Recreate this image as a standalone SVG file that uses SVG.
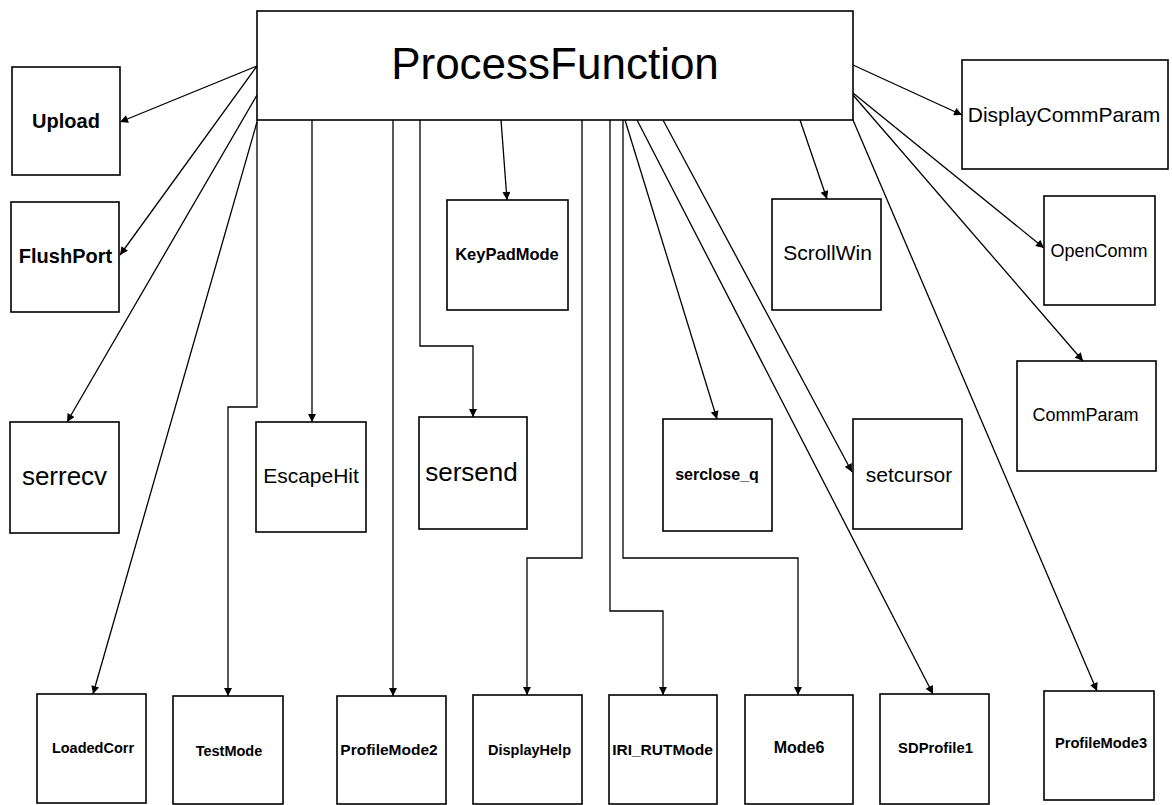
<svg xmlns="http://www.w3.org/2000/svg" width="1172" height="805" viewBox="0 0 1172 805">
<style>
.box{fill:#fff;stroke:#000;stroke-width:1.6}
.c{fill:none;stroke:#000;stroke-width:1.3}
text{font-family:"Liberation Sans",Arial,sans-serif;fill:#000;text-anchor:middle}
.b{font-weight:bold}
</style>
<defs>
<marker id="ah" viewBox="0 0 10 10" refX="10" refY="5" markerWidth="9" markerHeight="8" markerUnits="userSpaceOnUse" orient="auto">
<path d="M0,0 L10,5 L0,10 z" fill="#000"/>
</marker>
</defs>
<g id="connectors" class="c" marker-end="url(#ah)">
<path class="c" d="M257,66 L120,122"/>
<path class="c" d="M257,66 L120,255"/>
<path class="c" d="M257,95 L67,422"/>
<path class="c" d="M257,122 L93,694"/>
<path class="c" d="M257,120 L257,407 L228,407 L228,696"/>
<path class="c" d="M312,120 L312,422"/>
<path class="c" d="M393,120 L393,696"/>
<path class="c" d="M420,120 L420,346 L473,346 L473,417"/>
<path class="c" d="M501,120 L507,200"/>
<path class="c" d="M582,120 L582,558 L527,558 L527,695"/>
<path class="c" d="M610,120 L610,611 L663,611 L663,695"/>
<path class="c" d="M623,120 L623,558 L798,558 L798,695"/>
<path class="c" d="M625,120 L717,419"/>
<path class="c" d="M637,120 L933,694"/>
<path class="c" d="M663,120 L852,472"/>
<path class="c" d="M800,120 L827,199"/>
<path class="c" d="M853,120 L1097,691"/>
<path class="c" d="M853,65 L962,115"/>
<path class="c" d="M853,93 L1044,248"/>
<path class="c" d="M853,95 L1083,361"/>
</g>
<g id="ProcessFunction"><rect class="box" x="257" y="11" width="596" height="109"/><text x="555" y="79" font-size="44">ProcessFunction</text></g>
<g id="Upload"><rect class="box" x="12" y="67" width="108" height="108"/><text class="b" x="66" y="128" font-size="20">Upload</text></g>
<g id="FlushPort"><rect class="box" x="11" y="202" width="108" height="110"/><text class="b" x="65.5" y="263" font-size="20">FlushPort</text></g>
<g id="serrecv"><rect class="box" x="10" y="422" width="109" height="111"/><text x="64.5" y="485" font-size="26">serrecv</text></g>
<g id="EscapeHit"><rect class="box" x="256" y="422" width="110" height="110"/><text x="311" y="483" font-size="21">EscapeHit</text></g>
<g id="sersend"><rect class="box" x="419" y="417" width="108" height="112"/><text x="471.5" y="481" font-size="26">sersend</text></g>
<g id="KeyPadMode"><rect class="box" x="447" y="200" width="121" height="110"/><text class="b" x="507" y="260" font-size="16.5">KeyPadMode</text></g>
<g id="serclose_q"><rect class="box" x="663" y="419" width="109" height="112"/><text class="b" x="717" y="480" font-size="16">serclose_q</text></g>
<g id="ScrollWin"><rect class="box" x="772" y="199" width="109" height="111"/><text x="827.5" y="260" font-size="21">ScrollWin</text></g>
<g id="setcursor"><rect class="box" x="853" y="419" width="109" height="110"/><text x="909" y="482" font-size="21">setcursor</text></g>
<g id="DisplayCommParam"><rect class="box" x="962" y="60" width="206" height="109"/><text x="1064" y="122" font-size="21">DisplayCommParam</text></g>
<g id="OpenComm"><rect class="box" x="1044" y="196" width="111" height="109"/><text x="1099" y="257" font-size="18">OpenComm</text></g>
<g id="CommParam"><rect class="box" x="1017" y="361" width="139" height="110"/><text x="1085.5" y="421" font-size="18">CommParam</text></g>
<g id="LoadedCorr"><rect class="box" x="37" y="694" width="109" height="109"/><text class="b" x="93" y="753" font-size="14.5">LoadedCorr</text></g>
<g id="TestMode"><rect class="box" x="173" y="696" width="110" height="108"/><text class="b" x="229" y="756" font-size="14.5">TestMode</text></g>
<g id="ProfileMode2"><rect class="box" x="337" y="696" width="109" height="108"/><text class="b" x="389" y="755" font-size="15.5">ProfileMode2</text></g>
<g id="DisplayHelp"><rect class="box" x="473" y="695" width="109" height="109"/><text class="b" x="529.5" y="755" font-size="14.5">DisplayHelp</text></g>
<g id="IRI_RUTMode"><rect class="box" x="609" y="695" width="108" height="109"/><text class="b" x="662.5" y="755" font-size="15.5">IRI_RUTMode</text></g>
<g id="Mode6"><rect class="box" x="745" y="695" width="108" height="109"/><text class="b" x="799" y="753" font-size="16">Mode6</text></g>
<g id="SDProfile1"><rect class="box" x="880" y="694" width="109" height="110"/><text class="b" x="935.5" y="753" font-size="14.8">SDProfile1</text></g>
<g id="ProfileMode3"><rect class="box" x="1044" y="691" width="110" height="109"/><text class="b" x="1101" y="748" font-size="14.7">ProfileMode3</text></g>
</svg>
